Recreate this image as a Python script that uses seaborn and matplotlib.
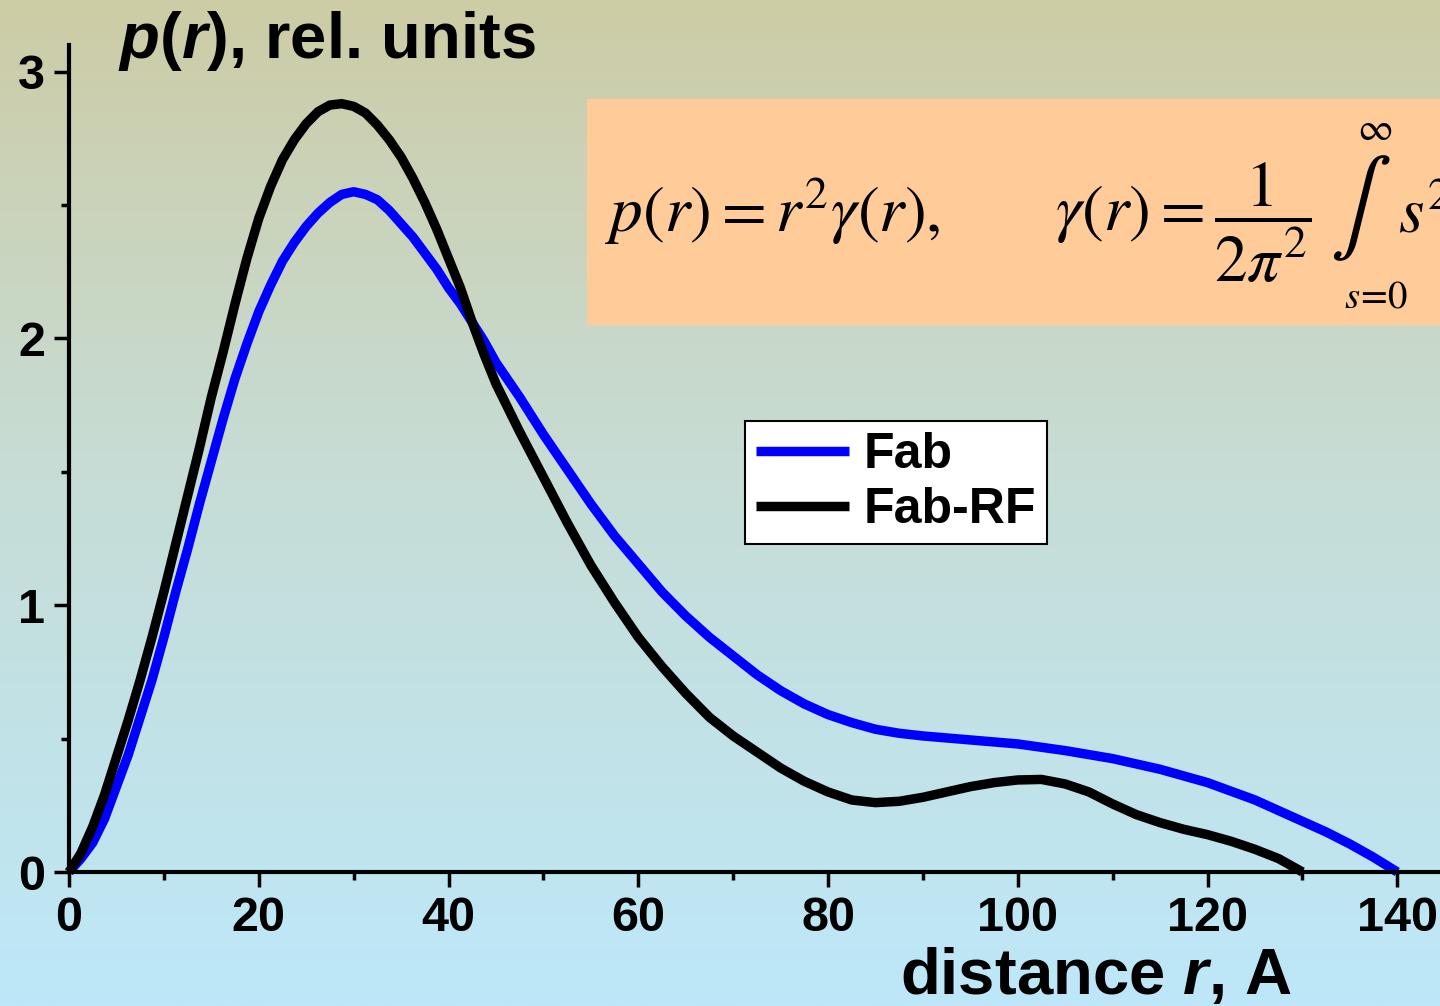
import numpy as np
import pandas as pd
import matplotlib
matplotlib.use("Agg")
import matplotlib.pyplot as plt
import seaborn as sns
from matplotlib.ticker import MultipleLocator
from matplotlib.colors import LinearSegmentedColormap
from matplotlib.patches import Rectangle

# ---- data ----
r_fab = [0, 1.25, 2.5, 3.75, 5, 6.25, 7.5, 8.75, 10, 11.25, 12.5, 13.75, 15, 16.25,
         17.5, 18.75, 20, 21.25, 22.5, 23.75, 25, 26.25, 27.5, 28.75, 30, 31.25,
         32.5, 33.75, 35, 36.25, 37.5, 38.75, 40, 41.25, 42.5, 43.75, 45, 47.5, 50,
         52.5, 55, 57.5, 60, 62.5, 65, 67.5, 70, 72.5, 75, 77.5, 80, 82.5, 85, 87.5,
         90, 95, 100, 105, 110, 115, 120, 125, 130, 132.5, 135, 137.5, 140]
p_fab = [0, 0.05, 0.11, 0.20, 0.32, 0.44, 0.58, 0.72, 0.88, 1.05, 1.21, 1.38, 1.54,
         1.70, 1.85, 1.98, 2.10, 2.20, 2.29, 2.36, 2.42, 2.47, 2.51, 2.54, 2.55, 2.54,
         2.52, 2.48, 2.43, 2.38, 2.32, 2.26, 2.19, 2.13, 2.06, 1.99, 1.91, 1.78, 1.64,
         1.51, 1.38, 1.26, 1.155, 1.05, 0.96, 0.88, 0.81, 0.74, 0.68, 0.63, 0.59, 0.56,
         0.535, 0.52, 0.51, 0.495, 0.48, 0.455, 0.425, 0.385, 0.335, 0.27, 0.19, 0.15,
         0.105, 0.055, 0]

r_rf = [0, 1.25, 2.5, 3.75, 5, 6.25, 7.5, 8.75, 10, 11.25, 12.5, 13.75, 15, 16.25,
        17.5, 18.75, 20, 21.25, 22.5, 23.75, 25, 26.25, 27.5, 28.75, 30, 31.25, 32.5,
        33.75, 35, 36.25, 37.5, 38.75, 40, 41.25, 42.5, 43.75, 45, 46.25, 47.5, 50,
        52.5, 55, 57.5, 60, 62.5, 65, 67.5, 70, 72.5, 75, 77.5, 80, 82.5, 85, 87.5,
        90, 92.5, 95, 97.5, 100, 102.5, 105, 107.5, 110, 112.5, 115, 117.5, 120,
        122.5, 125, 127.5, 130]
p_rf = [0, 0.07, 0.17, 0.29, 0.43, 0.57, 0.72, 0.88, 1.05, 1.23, 1.41, 1.59, 1.78,
        1.95, 2.13, 2.30, 2.45, 2.57, 2.67, 2.745, 2.805, 2.85, 2.875, 2.88, 2.87,
        2.845, 2.80, 2.745, 2.68, 2.60, 2.51, 2.41, 2.30, 2.19, 2.06, 1.94, 1.83, 1.74,
        1.65, 1.48, 1.31, 1.15, 1.01, 0.88, 0.77, 0.67, 0.58, 0.51, 0.45, 0.39, 0.34,
        0.30, 0.27, 0.26, 0.265, 0.28, 0.30, 0.32, 0.335, 0.345, 0.347, 0.33, 0.30,
        0.255, 0.215, 0.185, 0.16, 0.14, 0.115, 0.085, 0.05, 0]

series_names = ["Fab", "Fab-RF"]
series_colors = ["#0000ff", "#000000"]
x_ticks = [0, 20, 40, 60, 80, 100, 120, 140]
y_ticks = [0, 1, 2, 3]

df = pd.concat([
    pd.DataFrame({"r": r_fab, "p": p_fab, "sample": series_names[0]}),
    pd.DataFrame({"r": r_rf, "p": p_rf, "sample": series_names[1]}),
], ignore_index=True)

# ---- style ----
sns.set_theme(style="ticks")
plt.rcParams["font.family"] = ["Liberation Sans", "DejaVu Sans"]
plt.rcParams["text.color"] = "black"
plt.rcParams["axes.labelcolor"] = "black"
plt.rcParams["xtick.color"] = "black"
plt.rcParams["ytick.color"] = "black"
plt.rcParams["mathtext.fontset"] = "custom"
plt.rcParams["mathtext.it"] = "Liberation Sans:italic:bold"
plt.rcParams["mathtext.rm"] = "Liberation Sans:bold"
plt.rcParams["mathtext.bf"] = "Liberation Sans:bold"

W, H = 1440, 1006
fig = plt.figure(figsize=(W / 100, H / 100), dpi=100)

# background gradient
bg = fig.add_axes([0, 0, 1, 1], zorder=-10)
grad = np.linspace(0, 1, 512).reshape(-1, 1)
cmap = LinearSegmentedColormap.from_list(
    "bg", [(0.0, "#cdcca5"), (0.45, "#c7dcd4"), (1.0, "#bde8f9")])
bg.imshow(grad, aspect="auto", cmap=cmap, extent=[0, 1, 0, 1])
bg.add_patch(Rectangle((587 / W, 1 - 325 / H), 1.0, (325 - 99) / H,
                       transform=bg.transAxes, facecolor="#ffcc99", edgecolor="none"))
bg.set_xlim(0, 1)
bg.set_ylim(0, 1)
bg.axis("off")

# main axes
ax = fig.add_axes([69 / W, (H - 872) / H, (W - 69) / W, (872 - 45) / H])
ax.patch.set_alpha(0)

sns.lineplot(data=df, x="r", y="p", hue="sample", hue_order=series_names,
             palette=dict(zip(series_names, series_colors)), linewidth=6.8,
             estimator=None, sort=False, legend=False, ax=ax)
for ln in ax.lines:
    ln.set_clip_on(False)
    ln.set_solid_capstyle("butt")
    ln.set_solid_joinstyle("round")

ax.set_xlim(0, 144.5)
ax.set_ylim(0, 3.1)
ax.set_xticks(x_ticks)
ax.set_yticks(y_ticks)
ax.xaxis.set_minor_locator(MultipleLocator(10))
ax.yaxis.set_minor_locator(MultipleLocator(0.5))
ax.set_xlabel("")
ax.set_ylabel("")
for side in ["top", "right"]:
    ax.spines[side].set_visible(False)
for side in ["left", "bottom"]:
    ax.spines[side].set_linewidth(3)
    ax.spines[side].set_color("black")
ax.tick_params(which="major", direction="out", length=11, width=2.5, colors="black",
               labelsize=35, pad=6)
ax.tick_params(which="minor", direction="out", length=6, width=2.5, colors="black")
for lab in ax.get_xticklabels() + ax.get_yticklabels():
    lab.set_fontweight("bold")
    lab.set_color("black")

# legend
handles = ax.lines[:2]
leg = ax.legend(handles, series_names, loc="upper left",
                bbox_to_anchor=((745 - 69) / (W - 69), (872 - 421) / (872 - 45)),
                borderaxespad=0, frameon=True, fancybox=False, framealpha=1,
                prop={"weight": "bold", "size": 36}, handlelength=1.85,
                handletextpad=0.3, borderpad=0.22, labelspacing=0.18)
leg.get_frame().set_edgecolor("black")
leg.get_frame().set_linewidth(1.5)
for lh in leg.get_lines():
    lh.set_linewidth(6.8)
for t in leg.get_texts():
    t.set_color("black")

# axis titles
fig.text(118 / W, 1 - 58 / H, r"$p$($r$), rel. units", fontsize=47,
         fontweight="bold", va="baseline", ha="left", color="black")
fig.text(900 / W, 1 - 994 / H, r"distance $r$, A", fontsize=47,
         fontweight="bold", va="baseline", ha="left", color="black")

# formula box
fy = 1 - 232 / H
fkw = dict(math_fontfamily="stix", fontweight="normal", color="black")
fig.text(605 / W, fy, r"$p(r) = r^2\gamma(r),$", fontsize=47,
         va="baseline", ha="left", **fkw)
fig.text(1055 / W, fy, r"$\gamma(r) = \dfrac{1}{2\pi^2}$", fontsize=47,
         va="baseline", ha="left", **fkw)
fig.text(1360 / W, 1 - 208 / H, r"$\int$", fontsize=66,
         va="center", ha="center", **fkw)
fig.text(1375 / W, 1 - 130 / H, r"$\infty$", fontsize=28,
         va="center", ha="center", **fkw)
fig.text(1376 / W, 1 - 298 / H, r"$s\!=\!0$", fontsize=28,
         va="center", ha="center", **fkw)
fig.text(1398 / W, fy, r"$s^2$", fontsize=47,
         va="baseline", ha="left", **fkw)

fig.savefig("out.png", dpi=100)
